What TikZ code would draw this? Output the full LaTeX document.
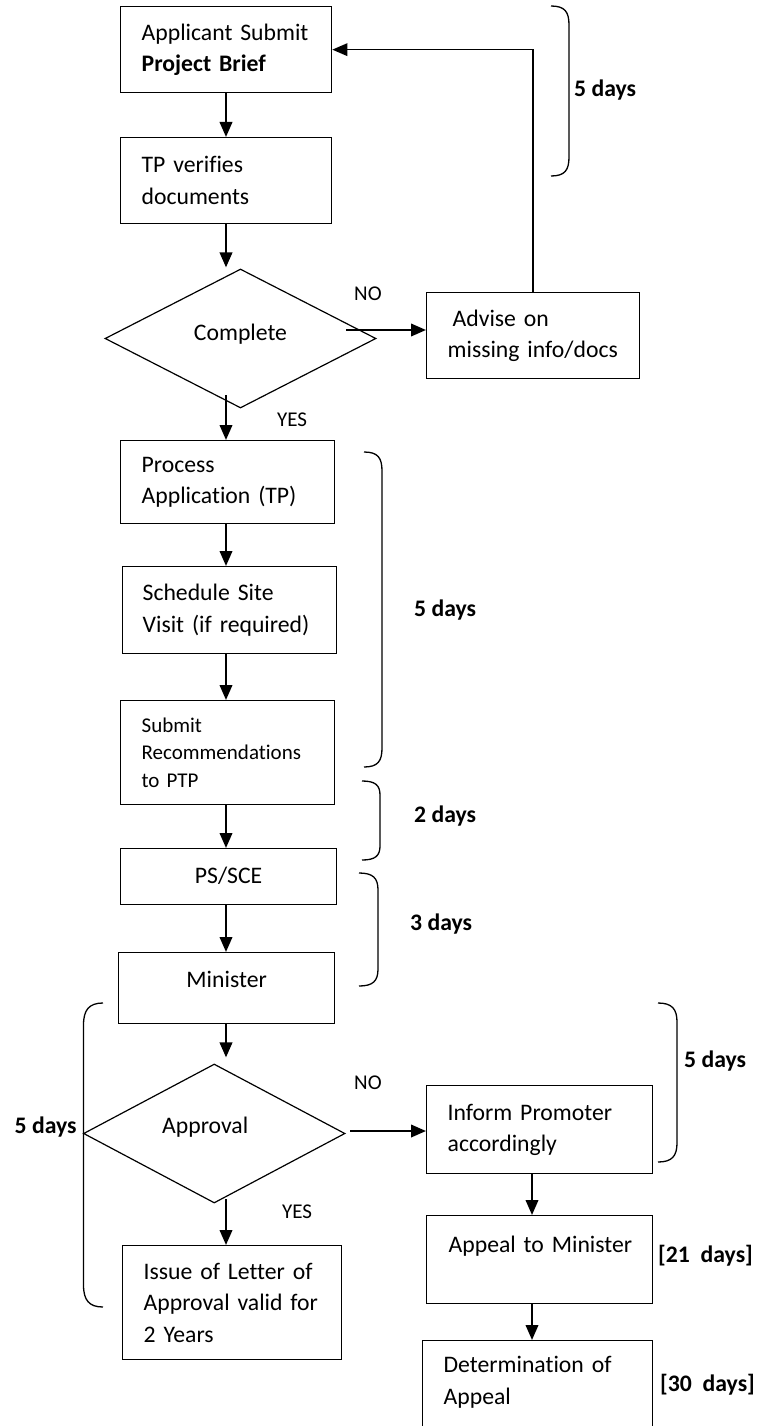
\documentclass[tikz,border=0pt]{standalone}
\usepackage{fontspec}
\setmainfont[Ligatures=NoCommon]{Carlito}
\usetikzlibrary{arrows.meta,shapes.geometric,calc}
\newcommand\fmain{\fontsize{23.7pt}{31.5pt}\selectfont}
\newcommand\fsmall{\fontsize{21pt}{27.5pt}\selectfont}
\newcommand\flab{\fontsize{21pt}{25pt}\selectfont}
\begin{document}
\begin{tikzpicture}[x=1pt,y=-1pt,
  stepbox/.style={draw, line width=1.3pt, rectangle, anchor=north west, inner xsep=21pt, inner ysep=0pt, align=left, font=\fmain},
  cbox/.style={draw, line width=1.3pt, rectangle, anchor=north west, inner sep=0pt, align=center, font=\fmain},
  dec/.style={draw, diamond, line width=1.2pt, inner sep=0pt, font=\fmain},
  arr/.style={line width=2.2pt, -{Triangle[length=15pt,width=12.5pt]}},
  brk/.style={line width=1.3pt},
  days/.style={font=\fmain\bfseries, anchor=base west, inner sep=0pt},
  yn/.style={font=\flab, anchor=base west, inner sep=0pt}
]
\path[use as bounding box, clip] (0,0) rectangle (762,1426);

% boxes
\node[stepbox, minimum width=211pt, minimum height=86pt, text width=169pt] (b1) at (120,6) {\mbox{Applicant Submit}\\\mbox{\textbf{Project Brief}}};
\node[stepbox, minimum width=211pt, minimum height=86pt, text width=169pt] (b2) at (120,137) {\mbox{TP verifies}\\\mbox{documents}};
\node[stepbox, minimum width=214pt, minimum height=83pt, text width=172pt] (b3) at (120,440) {\mbox{Process}\\\mbox{Application (TP)}};
\node[stepbox, inner xsep=20pt, minimum width=214pt, minimum height=87pt, text width=174pt] (b4) at (122,566) {\mbox{Schedule Site}\\\mbox{Visit (if required)}};
\node[stepbox, font=\fsmall, minimum width=214pt, minimum height=104pt, text width=172pt] (b5) at (120,700) {\mbox{Submit}\\\mbox{Recommendations}\\\mbox{to PTP}};
\node[cbox, minimum width=216pt, minimum height=56pt, text height=15pt, text depth=2pt] (b6) at (120,848) {PS/SCE};
\node[cbox, minimum width=216pt, minimum height=71pt, text height=16pt, text depth=18pt] (b7) at (118,952) {Minister};
\node[stepbox, minimum width=213pt, minimum height=86pt, text width=171pt] (adv) at (426,292) {\mbox{\hspace*{5pt}Advise on}\\\mbox{missing info/docs}};
\node[stepbox, minimum width=226pt, minimum height=88pt, text width=184pt] (inf) at (426,1085) {\mbox{Inform Promoter}\\\mbox{accordingly}};
\node[stepbox, minimum width=219pt, minimum height=114pt, text width=177pt] (iss) at (122,1245) {\mbox{Issue of Letter of}\\\mbox{Approval valid for}\\\mbox{2 Years}};
\node[stepbox, inner xsep=22pt, minimum width=226pt, minimum height=88pt, text width=182pt] (app) at (426,1215) {\mbox{Appeal to Minister}\\\mbox{}};
\node[stepbox, minimum width=230pt, minimum height=100pt, text width=188pt] (det) at (422,1340) {\mbox{Determination of}\\\mbox{Appeal}\rule[-21pt]{0pt}{0pt}};

% decisions
\node[dec, minimum width=271pt, minimum height=139pt, text height=15pt, text depth=12pt] (d1) at (240.5,338.5) {Complete};
\node[dec, minimum width=261.5pt, minimum height=139pt, text height=8pt, text depth=8pt] (d2) at (214.25,1133.5) {Approval\hspace*{18pt}};

% connectors
\coordinate (cx) at (226,0);
\coordinate (cr) at (532,0);
\draw[arr] (b1.south -| cx) -- (b2.north -| cx);
\draw[arr] (b2.south -| cx) -- ($(d1.north -| cx)+(0,-1)$);
\coordinate (y1) at (226,395);
\draw[arr] (y1) -- (y1 |- b3.north);
\coordinate (n1) at (346,330);
\draw[arr] (n1) -- (n1 -| adv.west);
\draw[line width=1.6pt, -{Triangle[length=15pt,width=12.5pt]}] (adv.north) |- (b1.east);
\draw[arr] (b3.south -| cx) -- (b4.north -| cx);
\draw[arr] (b4.south -| cx) -- (b5.north -| cx);
\draw[arr] (b5.south -| cx) -- (b6.north -| cx);
\draw[arr] (b6.south -| cx) -- (b7.north -| cx);
\draw[arr] (b7.south -| cx) -- ($(d2.north -| cx)+(0,-6)$);
\coordinate (y2) at (226,1199);
\draw[arr] (y2) -- (y2 |- iss.north);
\coordinate (n2) at (350,1131);
\draw[arr] (n2) -- (n2 -| inf.west);
\draw[arr] (inf.south -| cr) -- (app.north -| cr);
\draw[arr] (app.south -| cr) -- (det.north -| cr);

% brackets
\draw[brk] (551,6) .. controls (565,6) and (569,12) .. (569,25) -- (569,157) .. controls (569,170) and (565,176) .. (551,176);
\draw[brk] (364,452) .. controls (378,452) and (382,458) .. (382,471) -- (382,748) .. controls (382,761) and (378,767) .. (364,767);
\draw[brk] (362,781) .. controls (375,781) and (380,785) .. (380,795) -- (380,846) .. controls (380,856) and (375,860) .. (362,860);
\draw[brk] (359,873) .. controls (373,873) and (378,878) .. (378,890) -- (378,969) .. controls (378,981) and (373,986) .. (359,986);
\draw[brk] (103,1003) .. controls (89,1003) and (83.5,1010) .. (83.5,1025) -- (83.5,1285) .. controls (83.5,1300) and (89,1307) .. (103,1307);
\draw[brk] (658,1003) .. controls (672,1003) and (677,1009) .. (677,1022) -- (677,1143) .. controls (677,1156) and (672,1162) .. (658,1162);

% duration labels
\node[days] (t1) at (574,97) {5 days};
\node[days] (t2) at (414,616) {5 days};
\node[days] (t3) at (414,822) {2 days};
\node[days] (t4) at (410,930) {3 days};
\node[days] (t5) at (684,1067) {5 days};
\node[days] (t6) at (14.5,1133) {5 days};
\node[days] (t7) at (658,1262) {[21~~days]};
\node[days] (t8) at (660,1391) {[30~~days]};

% branch labels
\node[yn] (l1) at (354,300) {NO};
\node[yn] (l2) at (277,426) {YES};
\node[yn] (l3) at (354,1089) {NO};
\node[yn] (l4) at (282,1218) {YES};
\end{tikzpicture}
\end{document}
